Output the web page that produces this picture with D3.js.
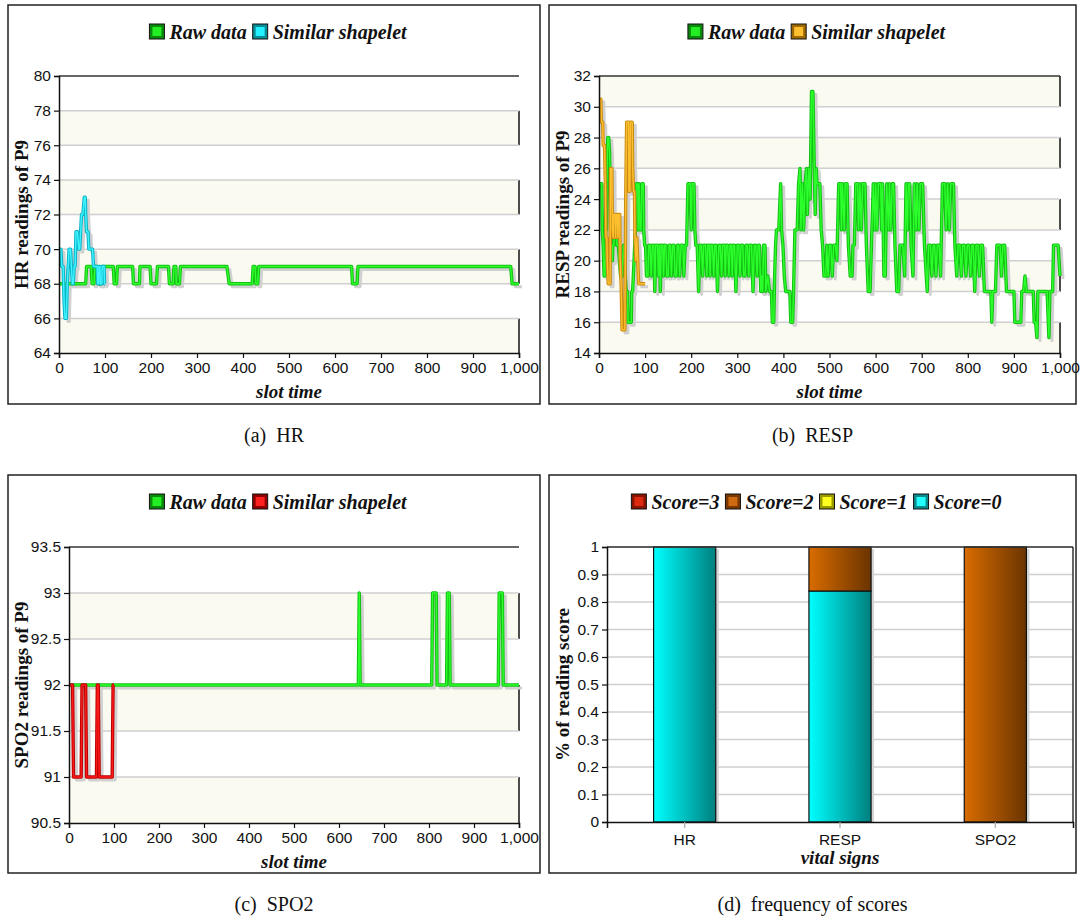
<!DOCTYPE html>
<html>
<head>
<meta charset="utf-8">
<script src="https://cdn.jsdelivr.net/npm/d3@7"></script>
<style>
  body { margin: 0; background: #fff; }
  text { fill: #111; }
</style>
</head>
<body>
<div id="chart"></div>
<script>
// ---- data ----
var slotTicks = [0, 100, 200, 300, 400, 500, 600, 700, 800, 900, 1000];

var hrTicks = [64, 66, 68, 70, 72, 74, 76, 78, 80];
var hrRaw = [[0,68],[58,68],[60,69],[70,69],[72,68],[76,68],[78,69],[84,69],[85,68],[87,68],[88,69],[89,68],[92,68],[93,69],[118,69],[120,68],[125,68],[127,69],[160,69],[162,68],[175,68],[176,69],[198,69],[200,68],[212,68],[214,69],[238,69],[240,68],[248,68],[250,69],[254,69],[255,68],[262,68],[264,69],[365,69],[370,68],[420,68],[422,69],[426,69],[428,68],[432,68],[434,69],[636,69],[638,68],[648,68],[650,69],[982,69],[985,68],[1000,68]];
var hrShape = [[0,70],[4,70],[6,69],[9,69],[11,67],[13,66],[16,66],[18,68],[20,69],[22,70],[25,70],[27,69],[29,68],[31,68],[33,69],[35,69],[37,71],[40,71],[43,70],[45,70],[47,71],[49,72],[52,72],[55,73],[57,73],[58,72],[60,71],[63,71],[65,70],[73,70],[75,69],[83,69],[84,68],[86,68],[87,69],[89,69],[90,68],[93,68],[94,69],[98,69],[99,68],[100,68]];

var respTicks = [14, 16, 18, 20, 22, 24, 26, 28, 30, 32];
var respRaw = [[0,25],[6,25],[7,22],[9,21],[11,19],[13,19],[14,22],[15,25],[16,22],[17,25],[19,28],[21,28],[23,27],[24,25],[25,22],[27,21],[29,20],[30,21],[32,21],[34,22],[37,22],[39,21],[42,21],[44,20],[47,19],[50,19],[53,21],[55,20],[57,19],[59,18],[62,18],[63,16],[70,16],[71,18],[73,18],[76,20],[79,22],[81,25],[84,25],[85,22],[87,25],[89,22],[91,22],[93,25],[96,25],[97,22],[99,21],[101,21],[103,19],[106,19],[108,21],[111,21],[113,19],[116,21],[119,21],[121,18],[123,21],[127,21],[129,19],[131,21],[133,18],[135,21],[138,21],[140,19],[142,21],[145,21],[147,19],[150,19],[152,21],[155,21],[157,19],[160,21],[163,21],[165,19],[168,19],[170,21],[173,21],[175,19],[178,21],[182,21],[184,19],[187,21],[190,21],[193,25],[198,25],[200,22],[202,25],[206,25],[208,22],[210,21],[213,21],[216,18],[219,21],[222,21],[225,19],[227,21],[231,21],[234,19],[236,21],[239,21],[241,19],[243,21],[246,21],[249,19],[251,21],[254,21],[257,18],[260,21],[263,21],[266,19],[268,21],[272,21],[274,19],[276,21],[279,21],[282,19],[284,21],[287,21],[289,19],[291,21],[294,21],[297,18],[300,21],[303,21],[306,19],[308,21],[312,21],[314,19],[317,19],[319,21],[322,21],[325,19],[327,21],[331,21],[334,18],[337,21],[340,21],[343,19],[345,21],[348,21],[351,18],[353,19],[355,18],[357,21],[360,21],[362,18],[366,19],[370,18],[374,18],[376,16],[379,16],[381,19],[383,21],[385,22],[390,22],[394,25],[396,22],[399,21],[402,19],[405,18],[414,18],[416,16],[420,16],[422,18],[425,22],[430,22],[433,25],[436,26],[438,22],[441,25],[444,22],[447,25],[450,26],[452,23],[455,26],[458,24],[461,31],[464,31],[467,26],[469,23],[471,26],[473,25],[479,25],[482,22],[485,21],[488,19],[492,19],[494,21],[497,19],[500,21],[503,21],[506,19],[509,21],[513,21],[516,20],[520,25],[524,25],[526,22],[528,25],[532,22],[534,25],[538,25],[541,21],[545,19],[549,19],[551,21],[554,21],[557,25],[561,25],[563,22],[566,25],[569,22],[572,25],[577,25],[580,21],[584,18],[588,18],[591,21],[595,25],[598,22],[600,25],[603,22],[606,25],[611,25],[613,22],[615,25],[618,19],[621,19],[624,25],[628,22],[630,25],[633,22],[636,25],[639,25],[642,21],[646,18],[650,18],[653,21],[659,21],[663,19],[666,25],[669,22],[671,25],[674,25],[677,21],[681,19],[684,25],[688,22],[690,25],[694,22],[697,25],[702,25],[706,21],[712,18],[715,21],[719,21],[722,19],[725,21],[728,21],[731,19],[734,21],[738,21],[741,19],[745,25],[750,25],[753,22],[756,25],[760,22],[763,25],[769,25],[772,21],[776,19],[779,21],[783,21],[786,19],[789,21],[793,21],[796,19],[799,21],[803,21],[806,19],[809,21],[812,21],[815,18],[818,21],[822,21],[825,19],[828,21],[832,21],[836,18],[850,18],[852,16],[854,18],[860,18],[863,21],[870,21],[873,19],[876,21],[880,21],[884,18],[900,18],[902,16],[915,16],[917,18],[921,18],[924,19],[927,18],[942,18],[944,16],[947,16],[950,15],[952,18],[972,18],[976,15],[978,18],[984,18],[986,21],[996,21],[1000,19]];
var respShape = [[0,30.5],[4,30.5],[5,29],[8,29],[9,27.5],[12,27.5],[13,26],[14,24.5],[15,21.5],[17,21.5],[18,20],[20,18.5],[24,18.5],[25,26],[28,26],[29,22],[31,21.5],[32,23],[35,23],[36,21.5],[38,23],[40,23],[41,21.5],[43,23],[45,23],[46,20],[48,18.5],[50,15.5],[56,15.5],[58,24],[60,29],[64,29],[65,24.5],[67,24.5],[68,29],[72,29],[73,26],[75,24.5],[77,24.5],[78,21.5],[80,20],[82,21.5],[84,20],[86,18.5],[100,18.5]];

var spoTicks = [90.5, 91, 91.5, 92, 92.5, 93, 93.5];
var spoRaw = [[0,92],[643,92],[645,93],[647,92],[806,92],[808,93],[816,93],[818,92],[839,92],[841,93],[845,93],[847,92],[954,92],[956,93],[963,93],[965,92],[1000,92]];
var spoShape = [[0,92],[8,92],[10,91],[27,91],[29,92],[37,92],[39,91],[61,91],[63,92],[65,92],[67,91],[96,91],[98,92],[100,92]];

var vitalSigns = ["HR", "RESP", "SPO2"];
var score0 = [1, 0.84, 0];
var score1 = [0, 0, 0];
var score2 = [0, 0.16, 1];
var score3 = [0, 0, 0];
var fracTicks = [0, 0.1, 0.2, 0.3, 0.4, 0.5, 0.6, 0.7, 0.8, 0.9, 1];

// ---- styles ----
var colors = {
  green:  {outer: '#13c013', inner: '#2cff2c', light: '#22ee22', dark: '#0a8a0a'},
  cyan:   {outer: '#08b4c8', inner: '#40f4ff', light: '#22f0ff', dark: '#0a8c96'},
  orange: {outer: '#c88a10', inner: '#ffc030', light: '#ffc030', dark: '#a06a00'},
  red:    {outer: '#b80000', inner: '#ff1a1a', light: '#ff2020', dark: '#900000'}
};
var cream = '#fafaf1';
var serif = '"Liberation Serif", "Times New Roman", serif';
var sans = '"Liberation Sans", Arial, sans-serif';

var svg = d3.select('#chart')
  .append('svg')
  .attr('width', 1082)
  .attr('height', 919);

var defs = svg.append('defs');

function hGrad(id, c1, c2) {
  var g = defs.append('linearGradient').attr('id', id)
    .attr('x1', '0%').attr('x2', '100%').attr('y1', '0%').attr('y2', '0%');
  g.append('stop').attr('offset', '0%').attr('stop-color', c1);
  g.append('stop').attr('offset', '100%').attr('stop-color', c2);
}
hGrad('g-s0', '#00ffff', '#007f7f');
hGrad('g-s1', '#ffff20', '#8a8a00');
hGrad('g-s2', '#d96c00', '#6a3400');
hGrad('g-s3', '#d02000', '#701000');

function frame(box) {
  svg.append('rect')
    .attr('x', box.x).attr('y', box.y)
    .attr('width', box.w).attr('height', box.h)
    .attr('fill', '#fff')
    .attr('stroke', '#222')
    .attr('stroke-width', 1.5);
}

function legend(cx, cy, items) {
  var g = svg.append('g');
  var x = 0;
  items.forEach(function(it) {
    var sw = g.append('g').attr('transform', 'translate(' + x + ',' + (-9) + ')');
    sw.append('rect').attr('width', 15).attr('height', 15)
      .attr('fill', it.dark).attr('stroke', '#111').attr('stroke-width', 1);
    sw.append('rect').attr('x', 3).attr('y', 3).attr('width', 9).attr('height', 9)
      .attr('fill', it.light);
    var t = g.append('text')
      .attr('x', x + 20).attr('y', 6)
      .attr('font-family', serif)
      .attr('font-style', 'italic')
      .attr('font-weight', 'bold')
      .attr('font-size', 20)
      .text(it.label);
    x += 20 + t.node().getComputedTextLength() + 6;
  });
  g.attr('transform', 'translate(' + (cx - (x - 6) / 2) + ',' + cy + ')');
}

function caption(cx, cy, label) {
  svg.append('text')
    .attr('x', cx).attr('y', cy)
    .attr('text-anchor', 'middle')
    .attr('font-family', serif)
    .attr('font-size', 20)
    .attr('xml:space', 'preserve')
    .text(label);
}

function yTitle(x, cy, label) {
  svg.append('text')
    .attr('transform', 'translate(' + x + ',' + cy + ') rotate(-90)')
    .attr('text-anchor', 'middle')
    .attr('font-family', serif)
    .attr('font-weight', 'bold')
    .attr('font-size', 19)
    .text(label);
}

function xTitle(cx, y, label) {
  svg.append('text')
    .attr('x', cx).attr('y', y)
    .attr('text-anchor', 'middle')
    .attr('font-family', serif)
    .attr('font-weight', 'bold')
    .attr('font-style', 'italic')
    .attr('font-size', 19)
    .text(label);
}

function styleAxis(g) {
  g.select('.domain').attr('stroke', '#111').attr('stroke-width', 1.5);
  g.selectAll('.tick line').attr('stroke', '#111').attr('stroke-width', 1.2);
  g.selectAll('.tick text')
    .attr('font-family', sans)
    .attr('font-size', 15.5)
    .attr('fill', '#111');
}

function linePanel(o) {
  frame(o.box);
  var x = d3.scaleLinear().domain([0, 1000]).range([o.plot.x0, o.plot.x1]);
  var y = d3.scaleLinear().domain([o.ticks[0], o.ticks[o.ticks.length - 1]]).range([o.plot.y1, o.plot.y0]);
  var g = svg.append('g');

  // alternating bands, cream from the bottom
  for (var i = 0; i < o.ticks.length - 1; i++) {
    if (i % 2 == 0) {
      g.append('rect')
        .attr('x', o.plot.x0).attr('width', o.plot.x1 - o.plot.x0)
        .attr('y', y(o.ticks[i + 1])).attr('height', y(o.ticks[i]) - y(o.ticks[i + 1]))
        .attr('fill', cream);
      g.append('line')
        .attr('x1', o.plot.x1).attr('x2', o.plot.x1)
        .attr('y1', y(o.ticks[i + 1])).attr('y2', y(o.ticks[i]))
        .attr('stroke', '#111').attr('stroke-width', 1.5);
    }
  }
  // grid lines
  g.selectAll('line.grid')
    .data(o.ticks.slice(1, -1))
    .enter().append('line')
      .attr('class', 'grid')
      .attr('x1', o.plot.x0).attr('x2', o.plot.x1)
      .attr('y1', function(d) { return y(d); })
      .attr('y2', function(d) { return y(d); })
      .attr('stroke', '#cfcfcf').attr('stroke-width', 1.5);
  // top border
  g.append('line')
    .attr('x1', o.plot.x0).attr('x2', o.plot.x1)
    .attr('y1', o.plot.y0).attr('y2', o.plot.y0)
    .attr('stroke', '#333').attr('stroke-width', 1.5);

  var line = d3.line()
    .x(function(d) { return x(d[0]); })
    .y(function(d) { return y(d[1]); });

  o.series.forEach(function(s) {
    g.append('path').attr('d', line(s.data))
      .attr('transform', 'translate(3,3)')
      .attr('fill', 'none').attr('stroke', '#d0d0d0').attr('stroke-width', 3)
      .attr('stroke-linejoin', 'round');
  });
  o.series.forEach(function(s) {
    g.append('path').attr('d', line(s.data))
      .attr('fill', 'none').attr('stroke', s.c.outer).attr('stroke-width', 3.4)
      .attr('stroke-linejoin', 'round');
    g.append('path').attr('d', line(s.data))
      .attr('fill', 'none').attr('stroke', s.c.inner).attr('stroke-width', 1.4)
      .attr('stroke-linejoin', 'round');
  });

  var ya = g.append('g')
    .attr('transform', 'translate(' + o.plot.x0 + ',0)')
    .call(d3.axisLeft(y).tickValues(o.ticks).tickSize(5).tickPadding(3).tickFormat(o.fmt));
  styleAxis(ya);
  var xa = g.append('g')
    .attr('transform', 'translate(0,' + o.plot.y1 + ')')
    .call(d3.axisBottom(x).tickValues(slotTicks).tickSize(5).tickPadding(4).tickFormat(d3.format(',')));
  styleAxis(xa);

  legend(o.box.x + o.box.w / 2 + 4, o.box.y + 28, o.legend);
  yTitle(o.box.x + 20, (o.plot.y0 + o.plot.y1) / 2, o.yTitle);
  xTitle((o.plot.x0 + o.plot.x1) / 2, o.plot.y1 + 45, 'slot time');
  caption(o.box.x + o.box.w / 2, o.box.y + o.box.h + 38, o.caption);
}

linePanel({
  box: {x: 8, y: 5, w: 532, h: 399},
  plot: {x0: 59, x1: 519, y0: 76, y1: 353},
  ticks: hrTicks, fmt: d3.format('d'),
  series: [{data: hrRaw, c: colors.green}, {data: hrShape, c: colors.cyan}],
  legend: [{label: 'Raw data', light: colors.green.light, dark: colors.green.dark},
           {label: 'Similar shapelet', light: colors.cyan.light, dark: colors.cyan.dark}],
  yTitle: 'HR readings of P9',
  caption: '(a)  HR'
});

linePanel({
  box: {x: 549, y: 5, w: 527, h: 399},
  plot: {x0: 599, x1: 1060, y0: 76, y1: 353},
  ticks: respTicks, fmt: d3.format('d'),
  series: [{data: respRaw, c: colors.green}, {data: respShape, c: colors.orange}],
  legend: [{label: 'Raw data', light: colors.green.light, dark: colors.green.dark},
           {label: 'Similar shapelet', light: colors.orange.light, dark: colors.orange.dark}],
  yTitle: 'RESP readings of P9',
  caption: '(b)  RESP'
});

linePanel({
  box: {x: 8, y: 475, w: 532, h: 398},
  plot: {x0: 69, x1: 519, y0: 547, y1: 823},
  ticks: spoTicks, fmt: function(d) { return String(d); },
  series: [{data: spoRaw, c: colors.green}, {data: spoShape, c: colors.red}],
  legend: [{label: 'Raw data', light: colors.green.light, dark: colors.green.dark},
           {label: 'Similar shapelet', light: colors.red.light, dark: colors.red.dark}],
  yTitle: 'SPO2 readings of P9',
  caption: '(c)  SPO2'
});

// ---- (d) stacked bars ----
(function() {
  var box = {x: 549, y: 475, w: 527, h: 398};
  var plot = {x0: 607, x1: 1073, y0: 547, y1: 822};
  frame(box);
  var x = d3.scaleBand().domain(vitalSigns).range([plot.x0, plot.x1]).paddingInner(0.6).paddingOuter(0.3);
  var y = d3.scaleLinear().domain([0, 1]).range([plot.y1, plot.y0]);
  var g = svg.append('g');

  g.selectAll('line.grid')
    .data(fracTicks.slice(1))
    .enter().append('line')
      .attr('x1', plot.x0).attr('x2', plot.x1)
      .attr('y1', function(d) { return y(d); })
      .attr('y2', function(d) { return y(d); })
      .attr('stroke', '#cfcfcf').attr('stroke-width', 1.5);

  var rows = vitalSigns.map(function(v, i) {
    return {sign: v, 'Score=0': score0[i], 'Score=1': score1[i], 'Score=2': score2[i], 'Score=3': score3[i]};
  });
  var stack = d3.stack().keys(['Score=0', 'Score=1', 'Score=2', 'Score=3'])(rows);
  var fills = {'Score=0': 'url(#g-s0)', 'Score=1': 'url(#g-s1)', 'Score=2': 'url(#g-s2)', 'Score=3': 'url(#g-s3)'};

  // shadows
  g.selectAll('rect.shadow')
    .data(rows)
    .enter().append('rect')
      .attr('x', function(d) { return x(d.sign) + 3; })
      .attr('y', y(1) + 2)
      .attr('width', x.bandwidth())
      .attr('height', y(0) - y(1) - 2)
      .attr('fill', '#d4d4d4');

  stack.forEach(function(layer) {
    g.selectAll(null)
      .data(layer.filter(function(d) { return d[1] - d[0] > 0; }))
      .enter().append('rect')
        .attr('x', function(d) { return x(d.data.sign); })
        .attr('y', function(d) { return y(d[1]); })
        .attr('width', x.bandwidth())
        .attr('height', function(d) { return y(d[0]) - y(d[1]); })
        .attr('fill', fills[layer.key])
        .attr('stroke', '#111').attr('stroke-width', 1.2);
  });

  // borders
  g.append('line').attr('x1', plot.x0).attr('x2', plot.x1).attr('y1', plot.y0).attr('y2', plot.y0)
    .attr('stroke', '#333').attr('stroke-width', 1.5);
  g.append('line').attr('x1', plot.x1).attr('x2', plot.x1).attr('y1', plot.y0).attr('y2', plot.y1)
    .attr('stroke', '#333').attr('stroke-width', 1.5);

  var ya = g.append('g')
    .attr('transform', 'translate(' + plot.x0 + ',0)')
    .call(d3.axisLeft(y).tickValues(fracTicks).tickSize(5).tickPadding(3).tickFormat(function(d) { return String(d); }));
  styleAxis(ya);
  var xa = g.append('g')
    .attr('transform', 'translate(0,' + plot.y1 + ')')
    .call(d3.axisBottom(x).tickSize(6).tickPadding(6));
  styleAxis(xa);
  xa.selectAll('.tick line').attr('stroke', '#aaa');

  legend(box.x + box.w / 2 + 4, box.y + 28, [
    {label: 'Score=3', light: '#dd2a10', dark: '#8a1400'},
    {label: 'Score=2', light: '#d06a10', dark: '#7a3800'},
    {label: 'Score=1', light: '#ffff20', dark: '#9a9a00'},
    {label: 'Score=0', light: '#22ffff', dark: '#0a8a8a'}
  ]);
  yTitle(box.x + 20, (plot.y0 + plot.y1) / 2, '% of reading score');
  xTitle((plot.x0 + plot.x1) / 2, plot.y1 + 42, 'vital signs');
  caption(box.x + box.w / 2, box.y + box.h + 38, '(d)  frequency of scores');
})();
</script>
</body>
</html>
